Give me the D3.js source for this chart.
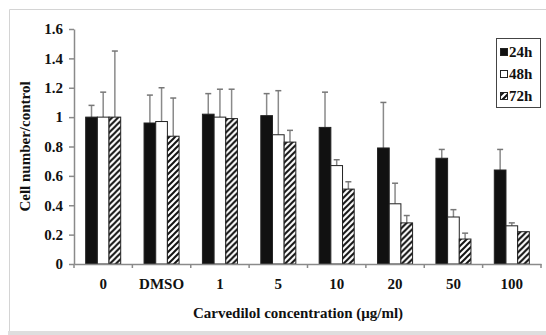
<!DOCTYPE html>
<html>
<head>
<meta charset="utf-8">
<script src="https://cdn.jsdelivr.net/npm/d3@7"></script>
<style>
  body { margin: 0; background: #fff; }
  text { font-family: "Liberation Serif", "Times New Roman", serif; font-weight: bold; fill: #111; }
</style>
</head>
<body>
<div id="chart"></div>
<script>
/* Carvedilol grouped bar chart */

const categories = ["0", "DMSO", "1", "5", "10", "20", "50", "100"];
const seriesNames = ["24h", "48h", "72h"];

const mean24 = [1.00, 0.96, 1.02, 1.01, 0.93, 0.79, 0.72, 0.64];
const mean48 = [1.00, 0.97, 1.00, 0.88, 0.67, 0.41, 0.32, 0.26];
const mean72 = [1.00, 0.87, 0.99, 0.83, 0.51, 0.28, 0.17, 0.22];

const err24 = [0.08, 0.19, 0.14, 0.15, 0.24, 0.31, 0.06, 0.14];
const err48 = [0.17, 0.23, 0.19, 0.30, 0.04, 0.14, 0.05, 0.02];
const err72 = [0.45, 0.26, 0.20, 0.08, 0.05, 0.05, 0.04, 0.00];

const yTicks = [0, 0.2, 0.4, 0.6, 0.8, 1, 1.2, 1.4, 1.6];

const width = 546,
  height = 335,
  margin = ({ top: 29, right: 5, bottom: 71, left: 74 });

const svg = d3.select("#chart")
  .append("svg")
  .attr("width", width)
  .attr("height", height);

// hatch pattern for 72h
const defs = svg.append("defs");
const pat = defs.append("pattern")
  .attr("id", "hatch")
  .attr("patternUnits", "userSpaceOnUse")
  .attr("width", 6)
  .attr("height", 6);
pat.append("rect").attr("width", 6).attr("height", 6).attr("fill", "#fff");
pat.append("path")
  .attr("d", "M-1,1 l2,-2 M0,6 l6,-6 M5,7 l2,-2")
  .attr("stroke", "#111")
  .attr("stroke-width", 2);

// outer frame
svg.append("rect")
  .attr("x", 8).attr("y", 331)
  .attr("width", width - 8).attr("height", 4)
  .attr("fill", "#dedede");
svg.append("path")
  .attr("d", `M9.5,331 V9.5 H${width}`)
  .attr("fill", "none")
  .attr("stroke", "#d4d4d4");

const data = categories.map((c, i) => ({
  cat: c,
  values: [
    { key: "24h", v: mean24[i], e: err24[i] },
    { key: "48h", v: mean48[i], e: err48[i] },
    { key: "72h", v: mean72[i], e: err72[i] }
  ]
}));

let x = d3.scaleBand()
  .domain(categories)
  .range([margin.left, width - margin.right])
  .paddingInner(0)
  .paddingOuter(0);

let x1 = d3.scaleBand()
  .domain(seriesNames)
  .range([0, x.bandwidth() * 0.6]);

let y = d3.scaleLinear()
  .domain([0, 1.6])
  .range([height - margin.bottom, margin.top]);

const fills = { "24h": "#111", "48h": "#fff", "72h": "url(#hatch)" };

const groups = svg.append("g")
  .selectAll("g")
  .data(data)
  .join("g")
  .attr("transform", d => `translate(${x(d.cat) + x.bandwidth() * 0.2},0)`);

// error bars (upper only)
groups.selectAll(".err")
  .data(d => d.values.filter(v => v.e > 0))
  .join("g")
  .attr("class", "err")
  .each(function (d) {
    const g = d3.select(this);
    const cx = x1(d.key) + x1.bandwidth() / 2;
    g.append("line")
      .attr("x1", cx).attr("x2", cx)
      .attr("y1", y(d.v)).attr("y2", y(d.v + d.e))
      .attr("stroke", "#8a8a8a").attr("stroke-width", 1.5);
    g.append("line")
      .attr("x1", cx - 3).attr("x2", cx + 3)
      .attr("y1", y(d.v + d.e)).attr("y2", y(d.v + d.e))
      .attr("stroke", "#777").attr("stroke-width", 1.5);
  });

groups.selectAll("rect")
  .data(d => d.values)
  .join("rect")
  .attr("x", d => x1(d.key))
  .attr("y", d => y(d.v))
  .attr("width", x1.bandwidth())
  .attr("height", d => y(0) - y(d.v))
  .attr("fill", d => fills[d.key])
  .attr("stroke", "#222")
  .attr("stroke-width", 1);

// axes
const yAxis = svg.append("g")
  .attr("transform", `translate(${margin.left},0)`)
  .call(d3.axisLeft(y)
    .tickValues(yTicks)
    .tickFormat(d => d3.format("")(+d.toFixed(1)))
    .tickSize(5)
    .tickSizeOuter(0)
    .tickPadding(6));
yAxis.select(".domain").attr("stroke", "#8a8a8a").attr("stroke-width", 1.5);
yAxis.selectAll(".tick line").attr("stroke", "#8a8a8a").attr("stroke-width", 1.5);
yAxis.selectAll(".tick text")
  .attr("font-size", 15)
  .attr("font-family", "Liberation Serif")
  .attr("font-weight", "bold");

const xAxis = svg.append("g")
  .attr("transform", `translate(0,${y(0)})`)
  .call(d3.axisBottom(x).tickSize(0).tickSizeOuter(0).tickPadding(14));
xAxis.select(".domain").attr("stroke", "#8a8a8a").attr("stroke-width", 1.5);
xAxis.selectAll(".tick text")
  .attr("font-size", 15)
  .attr("font-family", "Liberation Serif")
  .attr("font-weight", "bold");

// boundary ticks between categories
svg.append("g")
  .selectAll("line")
  .data(categories.concat(["end"]))
  .join("line")
  .attr("x1", (d, i) => margin.left + i * x.bandwidth())
  .attr("x2", (d, i) => margin.left + i * x.bandwidth())
  .attr("y1", y(0))
  .attr("y2", y(0) + 4)
  .attr("stroke", "#8a8a8a")
  .attr("stroke-width", 1.5);

svg.append("text")
  .attr("text-anchor", "middle")
  .attr("x", 298)
  .attr("y", 318)
  .attr("font-size", 15)
  .text("Carvedilol concentration (\u03bcg/ml)");

svg.append("text")
  .attr("text-anchor", "middle")
  .attr("transform", `translate(30,${(y(0) + y(1.6)) / 2}) rotate(-90)`)
  .attr("font-size", 15)
  .text("Cell number/control");

// legend
const legend = svg.append("g");
legend.append("rect")
  .attr("x", 496.5).attr("y", 38.5)
  .attr("width", 44).attr("height", 69)
  .attr("fill", "#fff")
  .attr("stroke", "#444")
  .attr("stroke-width", 1);

const li = legend.selectAll(".li")
  .data(seriesNames)
  .join("g")
  .attr("transform", (d, i) => `translate(500,${52 + i * 22})`);
li.append("rect")
  .attr("x", 0.5).attr("y", -3.5)
  .attr("width", 7).attr("height", 7)
  .attr("fill", d => fills[d])
  .attr("stroke", "#222");
li.append("text")
  .attr("x", 9)
  .attr("y", 5)
  .attr("font-size", 15)
  .text(d => d);
</script>
</body>
</html>
